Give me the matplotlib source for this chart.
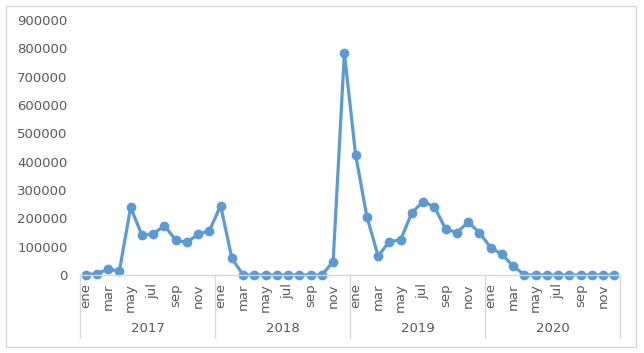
import numpy as np
import matplotlib.pyplot as plt
from matplotlib.patches import Rectangle
import matplotlib.transforms as mtransforms

years = ['2017', '2018', '2019', '2020']
months = ['ene', 'feb', 'mar', 'abr', 'may', 'jun',
          'jul', 'ago', 'sep', 'oct', 'nov', 'dic']

v2017 = [1000, 5000, 20000, 14000, 239000, 141000, 145000, 174000, 124000, 115000, 144000, 156000]
v2018 = [245000, 59000, 0, 0, 0, 0, 0, 0, 0, 0, 47000, 784000]
v2019 = [424000, 206000, 67000, 118000, 124000, 220000, 259000, 241000, 162000, 150000, 186000, 150000]
v2020 = [97000, 73000, 32000, 0, 0, 0, 0, 0, 0, 0, 0, 0]

values = v2017 + v2018 + v2019 + v2020
x = np.arange(len(values))

txt = '#595959'
grid = '#D9D9D9'

fig = plt.figure(figsize=(6.44, 3.53), dpi=100)
ax = fig.add_axes([80/644, 1-275/353, 540/644, 255/353])

ax.plot(x, values, color='#5B9BD5', linewidth=2.3, marker='o', markersize=6, clip_on=False)

ax.set_xlim(-0.5, len(values) - 0.5)
ax.set_ylim(0, 900000)
ax.set_yticks(np.arange(0, 900001, 100000))
ax.set_yticklabels([str(v) for v in range(0, 900001, 100000)])

ticks = x[::2]
ax.set_xticks(ticks)
ax.set_xticklabels([months[i % 12] for i in ticks], rotation=90, va='top', ha='center')

ax.tick_params(axis='both', length=0, colors=txt, labelsize=9.5)
ax.tick_params(axis='x', pad=6)
ax.tick_params(axis='y', pad=9)

for s in ['left', 'right', 'top']:
    ax.spines[s].set_visible(False)
ax.spines['bottom'].set_color(grid)
ax.spines['bottom'].set_linewidth(1)

# year separators and labels
trans = mtransforms.blended_transform_factory(ax.transData, ax.transAxes)
for k in range(len(years) + 1):
    xs = k * 12 - 0.5
    ax.plot([xs, xs], [0, -63/255], color=grid, linewidth=1, transform=trans, clip_on=False)
for k, yr in enumerate(years):
    ax.text(k * 12 + 5.5, -53/255, yr, transform=trans, ha='center', va='center',
            color=txt, fontsize=9.5)

# outer chart border
fig.patches.append(Rectangle((6/644, 1-347/353), 630/644, 341/353, transform=fig.transFigure,
                             fill=False, edgecolor=grid, linewidth=1))

plt.savefig('out.png', dpi=100)
plt.close()
